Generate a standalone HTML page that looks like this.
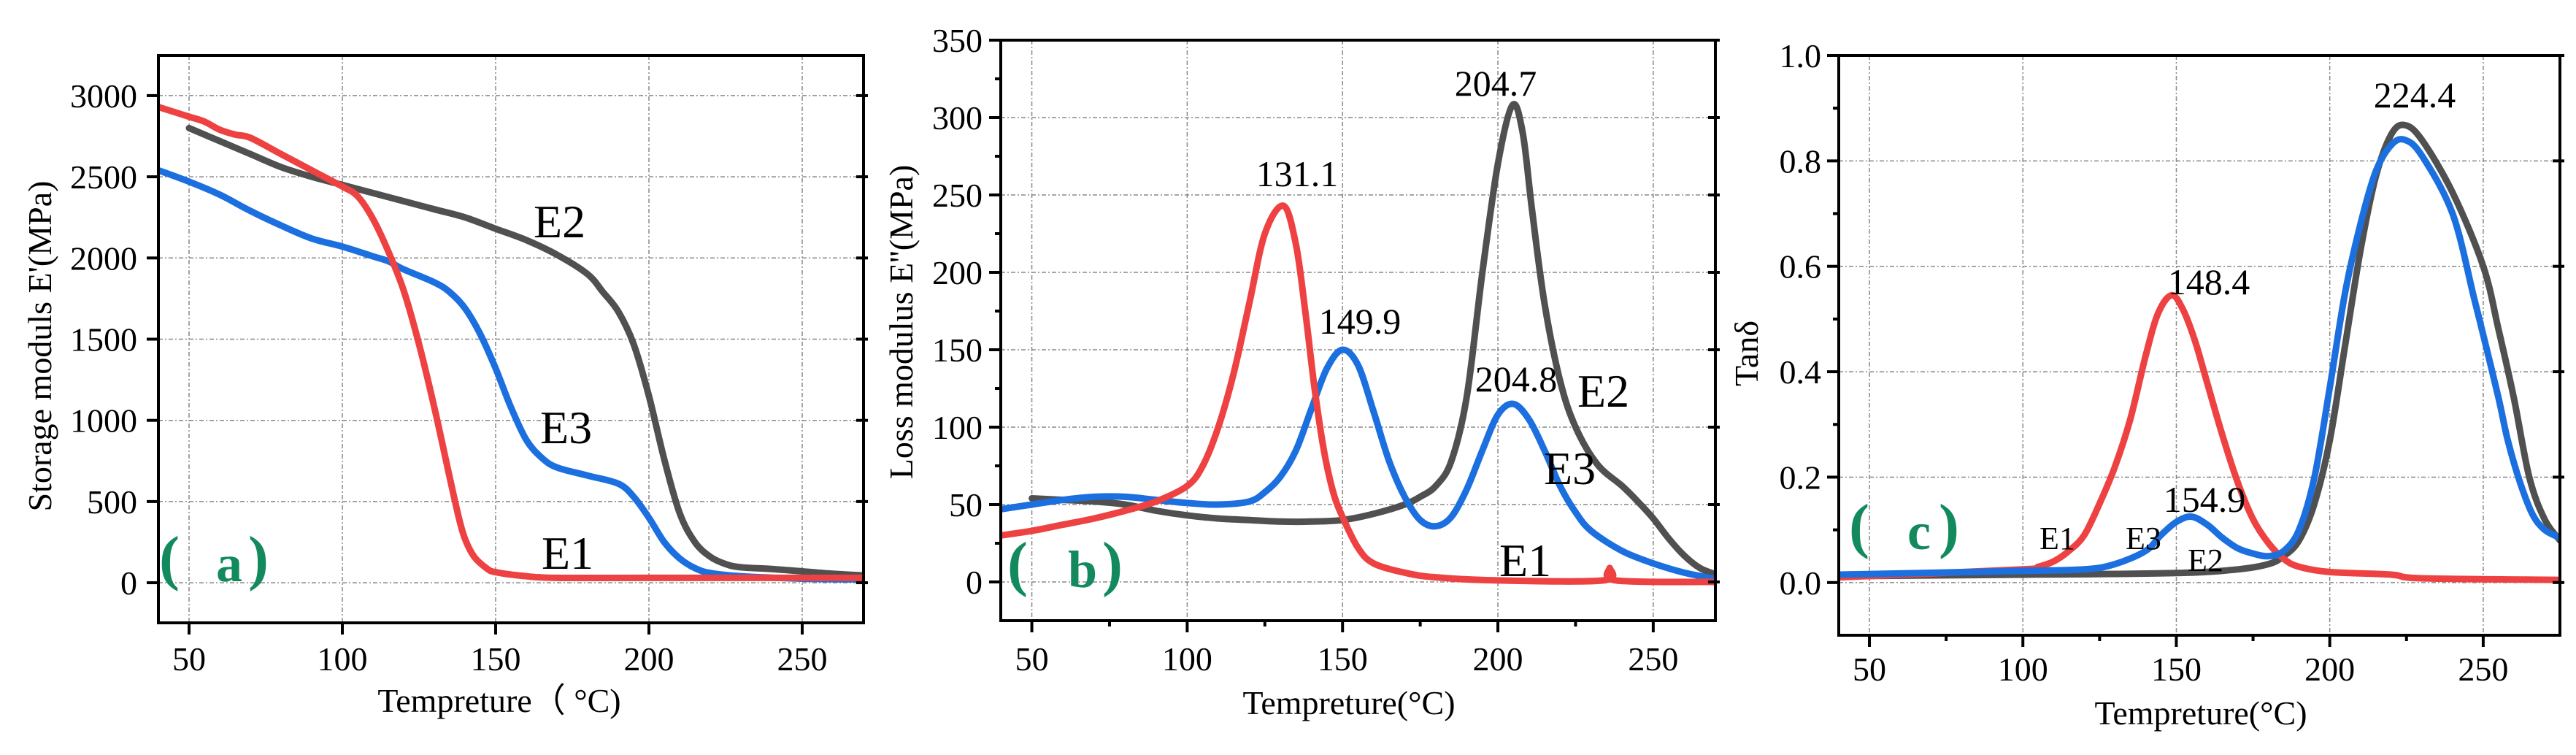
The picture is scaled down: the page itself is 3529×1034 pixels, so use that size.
<!DOCTYPE html>
<html><head><meta charset="utf-8"><style>
html,body{margin:0;padding:0;background:#fff;}
svg{display:block;font-family:"Liberation Serif",serif;}
text{font-family:"Liberation Serif",serif;}
</style></head><body>
<svg id="chart" width="3529" height="1034" viewBox="0 0 3529 1034" xmlns="http://www.w3.org/2000/svg" font-family="Liberation Serif, serif"></svg>
<script>
// ---- Panel (a) Storage modulus data ----
const aE1x=[40,50,55,60,65,70,80,90,100,105,110,115,120,125,130,135,138,140,143,147,150,160,170,200,270];
const aE1y=[2930,2870,2840,2790,2760,2740,2640,2540,2440,2380,2240,2040,1800,1470,1080,650,400,270,160,90,65,40,30,30,30];
const aE2x=[50,60,70,80,90,100,110,120,130,140,150,160,170,180,185,190,195,200,205,210,215,220,225,230,240,250,260,270];
const aE2y=[2800,2720,2640,2560,2500,2450,2400,2350,2300,2250,2180,2110,2020,1900,1790,1670,1470,1150,760,430,250,160,115,95,85,70,55,45];
const aE3x=[40,50,60,70,80,90,100,110,115,120,130,135,140,145,150,155,160,165,170,180,190,195,200,205,210,215,220,230,250,270];
const aE3y=[2540,2470,2390,2290,2200,2120,2070,2010,1980,1930,1850,1790,1690,1530,1320,1080,880,770,710,660,610,530,400,250,150,90,60,40,25,20];
const aYTicks=[0,500,1000,1500,2000,2500,3000];
const xTicks=[50,100,150,200,250];
// ---- Panel (b) Loss modulus data ----
const bE1x=[40,50,60,70,80,90,100,105,110,115,120,125,131,135,138,141,144,147,150,155,160,170,180,200,234,236,238,270];
const bE1y=[30,33,37,41,46,52,62,75,100,135,180,225,243,218,175,125,85,58,42,22,12,6,3,1,1,9,1,0];
const bE2x=[50,60,70,80,90,100,110,120,130,140,150,160,170,175,180,185,190,195,200,204.7,208,211,215,220,225,232,240,245,250,255,260,265,270];
const bE2y=[54,53,52,50,46,43,41,40,39,39,40,44,50,55,62,78,120,200,270,308,290,240,180,130,100,76,62,52,41,28,17,9,5];
const bE3x=[40,50,60,70,80,90,100,110,120,125,130,135,140,145,150,155,160,165,170,175,180,185,190,195,200,205,210,215,220,225,230,240,250,260,270];
const bE3y=[47,50,53,55,55,53,51,50,52,58,68,85,112,138,150,140,110,78,55,40,36,42,60,85,108,115,105,85,62,45,33,20,12,6,2];
const bYTicks=[0,50,100,150,200,250,300,350];
// ---- Panel (c) Tan delta data ----
const cE1x=[40,100,105,110,115,120,125,130,135,140,144,148.4,152,156,160,165,170,175,180,185,190,200,220,230,275];
const cE1y=[0.01,0.025,0.03,0.04,0.06,0.09,0.15,0.22,0.31,0.43,0.51,0.545,0.52,0.46,0.38,0.28,0.19,0.12,0.075,0.045,0.03,0.02,0.015,0.008,0.005];
const cE2x=[40,100,150,170,180,185,190,195,200,205,210,215,220,224.4,230,240,250,255,260,265,270,275];
const cE2y=[0.012,0.015,0.018,0.025,0.035,0.05,0.08,0.15,0.27,0.45,0.63,0.77,0.85,0.868,0.84,0.74,0.6,0.48,0.35,0.2,0.12,0.08];
const cE3x=[40,100,120,130,140,145,150,154.9,160,165,170,175,180,185,190,195,200,205,210,215,220,224.4,230,240,247,250,255,258,262,266,270,275];
const cE3y=[0.015,0.022,0.025,0.035,0.06,0.09,0.115,0.125,0.11,0.085,0.065,0.055,0.05,0.06,0.1,0.2,0.37,0.55,0.68,0.78,0.83,0.84,0.81,0.7,0.54,0.47,0.35,0.27,0.19,0.13,0.1,0.085];
const cYTicks=[0,0.2,0.4,0.6,0.8,1.0];
const cYLabels=["0.0","0.2","0.4","0.6","0.8","1.0"];

const NS="http://www.w3.org/2000/svg";
const svg=document.getElementById('chart');
const RED="#ee4242",GRAY="#505050",BLUE="#1b6fdf";
function mk(tag,attrs,parent){const e=document.createElementNS(NS,tag);for(const k in attrs)e.setAttribute(k,attrs[k]);(parent||svg).appendChild(e);return e;}
function txt(s,x,y,size,anchor,parent){const t=mk('text',{x:x,y:y,'font-size':size,'text-anchor':anchor||'start',fill:'#000','font-family':'Liberation Serif, serif'},parent);t.textContent=s;return t;}
function smooth(pts){let d="M"+pts[0][0].toFixed(1)+","+pts[0][1].toFixed(1);
 for(let i=0;i<pts.length-1;i++){const p0=pts[i-1]||pts[i],p1=pts[i],p2=pts[i+1],p3=pts[i+2]||p2;
  const c1=[p1[0]+(p2[0]-p0[0])/6,p1[1]+(p2[1]-p0[1])/6],c2=[p2[0]-(p3[0]-p1[0])/6,p2[1]-(p3[1]-p1[1])/6];
  d+=" C"+c1[0].toFixed(1)+","+c1[1].toFixed(1)+" "+c2[0].toFixed(1)+","+c2[1].toFixed(1)+" "+p2[0].toFixed(1)+","+p2[1].toFixed(1);}
 return d;}

function panel(cfg){
 const g=mk('g',{});
 
 
 const {L,R,T,B,x0,x1,y0,y1}=cfg;
 const sx=v=>L+(v-x0)/(x1-x0)*(R-L), sy=v=>B-(v-y0)/(y1-y0)*(B-T);
 const grid=mk('g',{stroke:'#888','stroke-width':1.5,'stroke-dasharray':'6 3 2 3'},g);
 
 
 xTicks.forEach(v=>mk('line',{x1:sx(v),x2:sx(v),y1:T,y2:B},grid));
 cfg.yt.forEach(v=>mk('line',{x1:L,x2:R,y1:sy(v),y2:sy(v)},grid));
 cfg.series.forEach(s=>{
  const pts=s.x.map((xv,i)=>[sx(xv),sy(s.y[i])]);
  const p=mk('path',{d:smooth(pts),fill:'none',stroke:s.c,'stroke-width':9,'stroke-linejoin':'round','stroke-linecap':'round','clip-path':'url(#'+cfg.clip+')'},g);
  
  
 });
 const fr=mk('rect',{x:L,y:T,width:R-L,height:B-T,fill:'none',stroke:'#000','stroke-width':4},g);
 
 
 const ax=mk('g',{stroke:'#000','stroke-width':4},g);
 
 
 xTicks.forEach(v=>{mk('line',{x1:sx(v),x2:sx(v),y1:B,y2:B+16},ax);});
 if(cfg.minor){[75,125,175,225].forEach(v=>{if(v<x1)mk('line',{x1:sx(v),x2:sx(v),y1:B,y2:B+8},ax);});
  for(let i=0;i<cfg.yt.length-1;i++){const m=(cfg.yt[i]+cfg.yt[i+1])/2;mk('line',{x1:L-8,x2:L,y1:sy(m),y2:sy(m)},ax);}
  const m0=cfg.yt[0]-(cfg.yt[1]-cfg.yt[0])/2; if(m0>y0)mk('line',{x1:L-8,x2:L,y1:sy(m0),y2:sy(m0)},ax);}
 cfg.yt.forEach(v=>{mk('line',{x1:L-16,x2:L,y1:sy(v),y2:sy(v)},ax);mk('line',{x1:R-10,x2:R+6,y1:sy(v),y2:sy(v)},ax);});
 xTicks.forEach(v=>{const t=txt(String(v),sx(v),cfg.xlY,46,'middle',g);
  
  });
 cfg.yt.forEach((v,i)=>{const t=txt(cfg.yl?cfg.yl[i]:String(v),cfg.ylX,sy(v)+16,46,'end',g);
  
  });
 return {sx,sy,g};
}
const defs=mk('defs',{});
[['clipA',217,76,966,777],['clipB',1371,55,979,795],['clipC',2519,76,988,794]].forEach(c=>{const cp=mk('clipPath',{id:c[0]},defs);mk('rect',{x:c[1],y:c[2],width:c[3],height:c[4]},cp);});

panel({name:'panel-a-storage-modulus',clip:'clipA',L:217,R:1183,T:76,B:853,x0:40,x1:270,y0:-247,y1:3247,yt:aYTicks,xlY:918,ylX:188,minor:false,
 series:[{x:aE2x,y:aE2y,c:GRAY,n:'line-a-e2'},{x:aE3x,y:aE3y,c:BLUE,n:'line-a-e3'},{x:aE1x,y:aE1y,c:RED,n:'line-a-e1'}]});
panel({name:'panel-b-loss-modulus',clip:'clipB',L:1371,R:2350,T:55,B:850,x0:40,x1:270,y0:-25,y1:350,yt:bYTicks,xlY:918,ylX:1346,minor:true,
 series:[{x:bE2x,y:bE2y,c:GRAY,n:'line-b-e2'},{x:bE3x,y:bE3y,c:BLUE,n:'line-b-e3'},{x:bE1x,y:bE1y,c:RED,n:'line-b-e1'}]});
panel({name:'panel-c-tan-delta',clip:'clipC',L:2519,R:3507,T:76,B:870,x0:40,x1:275,y0:-0.1,y1:1.0,yt:cYTicks,yl:cYLabels,xlY:932,ylX:2495,minor:true,
 series:[{x:cE2x,y:cE2y,c:GRAY,n:'line-c-e2'},{x:cE1x,y:cE1y,c:RED,n:'line-c-e1'},{x:cE3x,y:cE3y,c:BLUE,n:'line-c-e3'}]});
</script>
<svg style="position:absolute;left:0;top:0" width="3529" height="1034" font-family="Liberation Serif, serif">
 <text font-size="46" text-anchor="middle" transform="translate(70,474) rotate(-90)">Storage moduls E'(MPa)</text>
 <text font-size="46" text-anchor="middle" x="684" y="975">Tempreture（ °C)</text>
 <text font-size="64" x="731" y="325">E2</text>
 <text font-size="64" x="740" y="607">E3</text>
 <text font-size="64" x="742" y="779">E1</text>
 <g font-weight="bold" fill="#138a5e">
  <text font-size="84" x="218" y="792">(</text><text font-size="72" x="296" y="796">a</text><text font-size="84" x="340" y="792">)</text>
 </g>

 <text font-size="46" text-anchor="middle" transform="translate(1250,441) rotate(-90)">Loss modulus E''(MPa)</text>
 <text font-size="46" text-anchor="middle" x="1848" y="978">Tempreture(°C)</text>
 <text font-size="50" text-anchor="middle" x="1777" y="255">131.1</text>
 <text font-size="50" text-anchor="middle" x="2049" y="131">204.7</text>
 <text font-size="50" text-anchor="middle" x="1863" y="457">149.9</text>
 <text font-size="50" text-anchor="middle" x="2077" y="536">204.8</text>
 <text font-size="64" x="2161" y="557">E2</text>
 <text font-size="64" x="2115" y="663">E3</text>
 <text font-size="64" x="2054" y="789">E1</text>
 <g font-weight="bold" fill="#138a5e">
  <text font-size="84" x="1380" y="800">(</text><text font-size="72" x="1463" y="804">b</text><text font-size="84" x="1510" y="800">)</text>
 </g>

 <text font-size="46" text-anchor="middle" transform="translate(2408,484) rotate(-90)">Tanδ</text>
 <text font-size="46" text-anchor="middle" x="3015" y="992">Tempreture(°C)</text>
 <text font-size="50" text-anchor="middle" x="3308" y="147">224.4</text>
 <text font-size="50" text-anchor="middle" x="3026" y="403">148.4</text>
 <text font-size="50" text-anchor="middle" x="3020" y="701">154.9</text>
 <text font-size="44" x="2794" y="752">E1</text>
 <text font-size="44" x="2912" y="752">E3</text>
 <text font-size="44" x="2997" y="782">E2</text>
 <g font-weight="bold" fill="#138a5e">
  <text font-size="84" x="2533" y="748">(</text><text font-size="72" x="2613" y="752">c</text><text font-size="84" x="2656" y="748">)</text>
 </g>
</svg>
</body></html>
